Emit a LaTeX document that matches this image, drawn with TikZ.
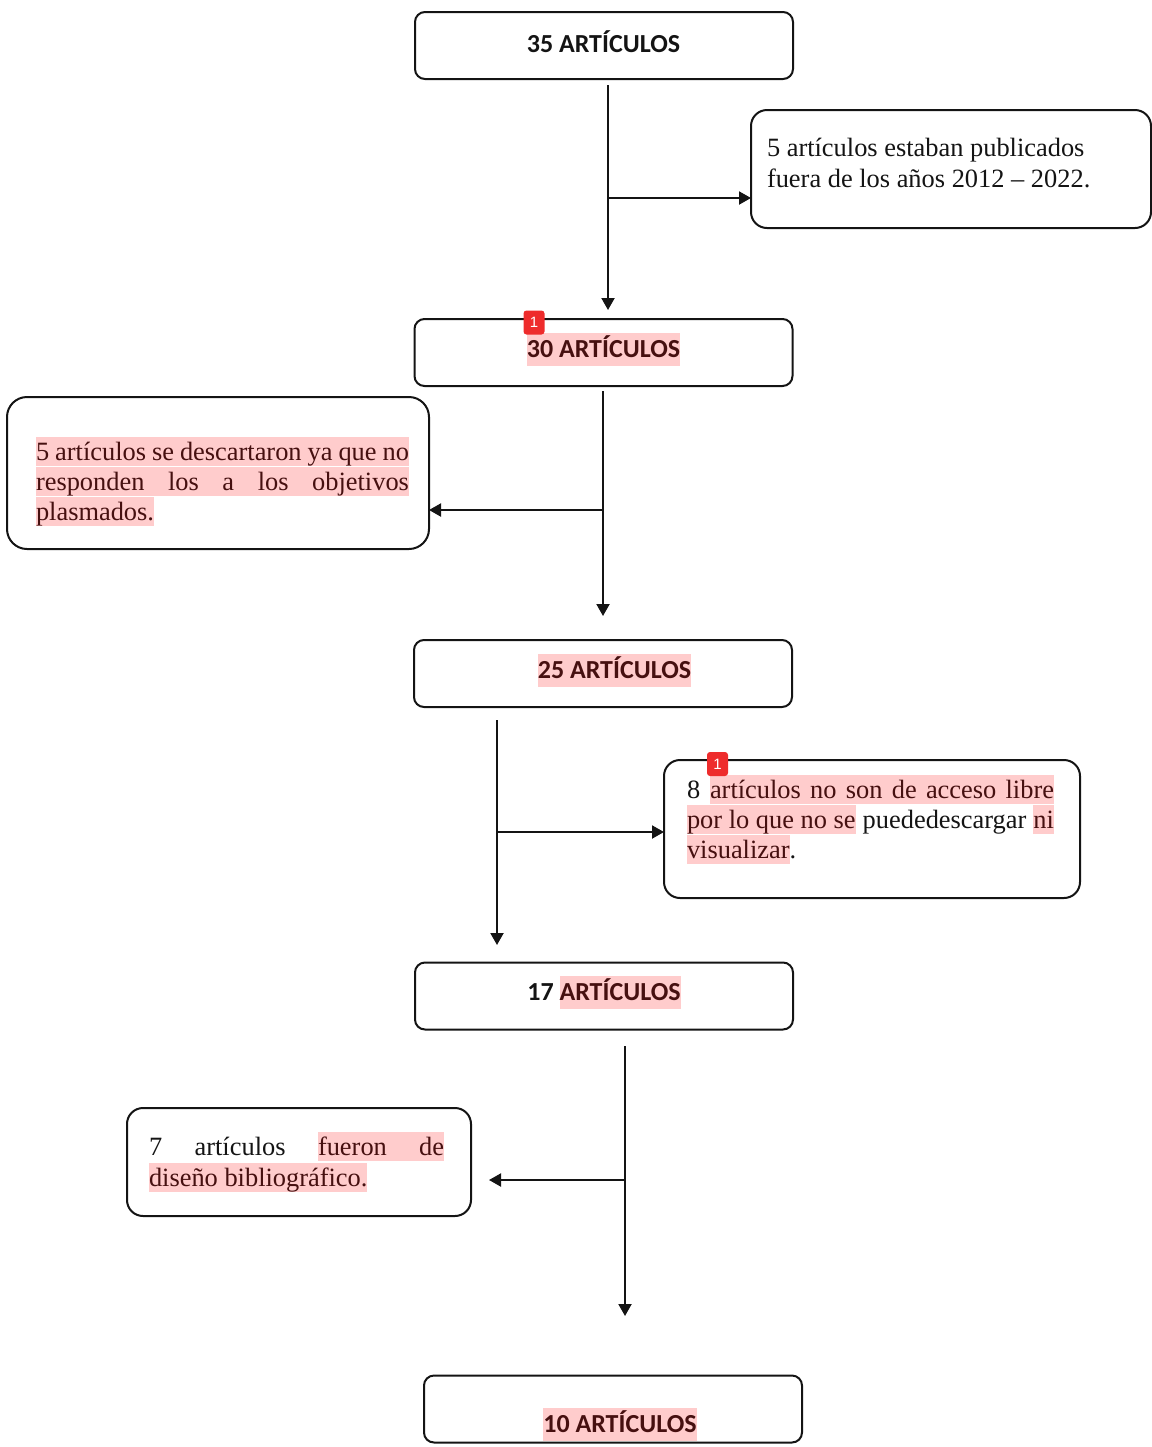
\documentclass[tikz,border=0pt]{standalone}
\usepackage{fontspec}
\setmainfont{Liberation Serif}
\newfontfamily\titlefont{Carlito}
\newfontfamily\badgefont{Liberation Sans}
\usetikzlibrary{arrows.meta}
\definecolor{hl}{RGB}{255,204,204}
\definecolor{hltext}{RGB}{70,16,16}
\definecolor{ink}{RGB}{20,20,20}
\definecolor{badgered}{RGB}{238,44,44}
\newcommand\hlbox[1]{{\setlength\fboxsep{0pt}\colorbox{hl}{\color{hltext}\rule[-3pt]{0pt}{14.5pt}#1}}}
\newcommand\hlboxT[1]{{\setlength\fboxsep{0pt}\colorbox{hl}{\color{hltext}\rule[-4.5pt]{0pt}{16.5pt}#1}}}
\begin{document}
\begin{tikzpicture}[x=0.5pt,y=-0.5pt,
  every node/.style={inner sep=0pt, outer sep=0pt},
  titlebox/.style={draw=ink, line width=1pt, rounded corners=5pt, minimum width=189pt, minimum height=33.5pt},
  notebox/.style={draw=ink, line width=1pt, rounded corners=8pt},
  ttext/.style={anchor=base, font=\titlefont\bfseries\fontsize{13}{15}\selectfont, text=ink},
  ntext/.style={anchor=base west, font=\fontsize{13.2}{15.5}\selectfont, text=ink},
  arr/.style={draw=ink, line width=1pt, -{Triangle[length=6pt,width=6.5pt]}},
  badge/.style={fill=badgered, rounded corners=1.5pt, minimum width=10.5pt, minimum height=12pt, text=white, font=\badgefont\fontsize{7.5}{8}\selectfont}]

\useasboundingbox (0,0) rectangle (1152,1447);

% title boxes
\node[titlebox] (b35) at (604,45.5) {};
\node[titlebox] (b30) at (603.5,352.5) {};
\node[titlebox] (b25) at (603,673.5) {};
\node[titlebox] (b17) at (604,996) {};
\node[titlebox] (b10) at (613,1409) {};

\node[ttext] (t35) at (603.5,52) {35 ARTÍCULOS};
\node[ttext] (t30) at (603.5,357) {\hlboxT{30 ARTÍCULOS}};
\node[ttext] (t25) at (614.5,678) {\hlboxT{25 ARTÍCULOS}};
\node[ttext] (t17) at (604,1000) {17 \hlboxT{ARTÍCULOS}};
\node[ttext] (t10) at (620,1432) {\hlboxT{10 ARTÍCULOS}};

% note boxes
\node[notebox, minimum width=200pt, minimum height=59pt] (n5a) at (951,169) {};
\node[notebox, rounded corners=10pt, minimum width=211pt, minimum height=76pt] (n5b) at (218,473) {};
\node[notebox, minimum width=208pt, minimum height=69pt] (n8) at (872,829) {};
\node[notebox, minimum width=172pt, minimum height=54pt] (n7) at (299,1162) {};

% note texts
\node[ntext] (a1) at (767,156) {5 artículos estaban publicados};
\node[ntext] (a2) at (767,187) {fuera de los años 2012 – 2022.};

\node[ntext] (c1) at (36,460) {\hlbox{\makebox[186.5pt][s]{5 artículos se descartaron ya que no}}};
\node[ntext] (c2) at (36,490) {\hlbox{\makebox[186.5pt][s]{responden los a los objetivos}}};
\node[ntext] (c3) at (36,520) {\hlbox{plasmados.}};

\node[ntext] (d1) at (687,798) {\makebox[183.5pt][s]{8 \hlbox{\makebox[172pt][s]{artículos no son de acceso libre}}}};
\node[ntext] (d2) at (687,828) {\makebox[183.5pt][s]{\hlbox{por lo que no se} puededescargar \hlbox{ni}}};
\node[ntext] (d3) at (687,858) {\hlbox{visualizar}.};

\node[ntext] (e1) at (149,1155) {\makebox[147.5pt][s]{7 artículos \hlbox{\makebox[63pt][s]{fueron de}}}};
\node[ntext] (e2) at (149,1186) {\hlbox{diseño bibliográfico.}};

% connectors
\coordinate (s1) at (608,85);
\coordinate (e1c) at (608,310);
\coordinate (j1) at (608,198);
\draw[arr] (s1) -- (e1c);
\draw[arr] (j1) -- (j1 -| n5a.west);

\coordinate (s2) at (603,391);
\coordinate (e2c) at (603,616);
\coordinate (j2) at (603,510);
\draw[arr] (s2) -- (e2c);
\draw[arr] (j2) -- (j2 -| n5b.east);

\coordinate (s3) at (497,720);
\coordinate (e3c) at (497,945);
\coordinate (j3) at (497,832);
\draw[arr] (s3) -- (e3c);
\draw[arr] (j3) -- (j3 -| n8.west);

\coordinate (s4) at (625,1046);
\coordinate (e4c) at (625,1316);
\coordinate (j4) at (625,1180);
\draw[arr] (s4) -- (e4c);
\draw[arr, shorten >=9pt] (j4) -- (j4 -| n7.east);

% comment markers
\node[badge] (m1) at (534,322.5) {1};
\node[badge] (m2) at (717.5,764) {1};
\end{tikzpicture}
\end{document}
